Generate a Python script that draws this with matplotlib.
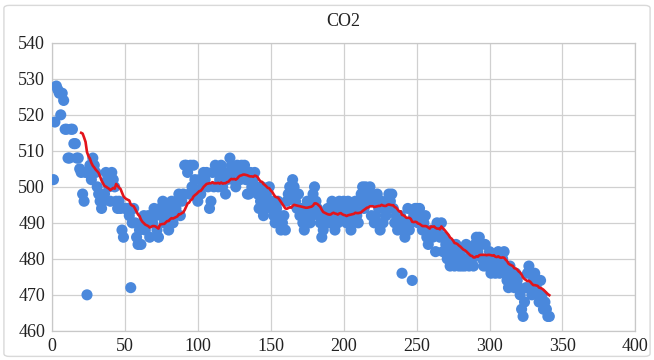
import matplotlib
matplotlib.use("Agg")
import matplotlib.pyplot as plt
import numpy as np
from matplotlib.patches import FancyBboxPatch

plt.rcParams['font.family'] = ['Liberation Serif', 'DejaVu Serif']

title = "CO2"
co2 = [
    502, 518, 528, 527, 526, 520, 526, 524, 516, 516,
    508, 508, 516, 516, 512, 512, 508, 508, 505, 504,
    498, 496, 504, 470, 504, 506, 502, 508, 506, 504,
    500, 498, 496, 494, 496, 498, 504, 502, 500, 496,
    504, 502, 500, 496, 494, 496, 494, 488, 486, 494,
    494, 494, 492, 472, 490, 494, 490, 486, 484, 488,
    484, 490, 492, 488, 490, 492, 486, 492, 490, 494,
    492, 488, 486, 494, 492, 496, 490, 494, 492, 488,
    494, 496, 490, 492, 494, 496, 498, 492, 496, 498,
    506, 506, 504, 498, 506, 500, 506, 502, 498, 496,
    502, 498, 500, 504, 502, 504, 500, 494, 496, 504,
    500, 506, 504, 500, 502, 506, 500, 504, 498, 502,
    504, 508, 506, 502, 504, 500, 506, 504, 502, 506,
    504, 506, 502, 498, 498, 504, 500, 502, 504, 500,
    498, 494, 496, 500, 492, 494, 498, 496, 500, 494,
    496, 492, 490, 494, 496, 492, 488, 490, 492, 488,
    496, 498, 500, 498, 502, 500, 496, 494, 498, 492,
    494, 490, 488, 492, 496, 494, 490, 492, 498, 500,
    496, 494, 492, 490, 486, 488, 492, 490, 494, 490,
    494, 496, 492, 488, 494, 490, 496, 494, 492, 496,
    494, 490, 496, 492, 488, 490, 494, 496, 492, 490,
    496, 498, 500, 494, 500, 496, 498, 500, 492, 496,
    490, 492, 498, 494, 488, 496, 490, 494, 492, 496,
    498, 496, 498, 494, 490, 492, 488, 490, 492, 476,
    488, 486, 490, 494, 488, 490, 474, 492, 494, 494,
    490, 494, 492, 488, 490, 492, 486, 484, 486, 488,
    486, 488, 482, 490, 488, 486, 490, 482, 486, 484,
    480, 484, 478, 482, 480, 478, 484, 480, 478, 482,
    478, 480, 478, 484, 480, 478, 482, 480, 478, 484,
    486, 482, 486, 484, 480, 478, 484, 478, 480, 482,
    476, 478, 480, 476, 478, 482, 476, 478, 480, 482,
    476, 474, 472, 478, 476, 474, 472, 476, 474, 472,
    470, 466, 464, 468, 472, 476, 478, 472, 470, 474,
    476, 472, 470, 468, 474, 470, 466, 468, 466, 464, 464,
]
period = 20
x_ticks = [0, 50, 100, 150, 200, 250, 300, 350, 400]
y_ticks = [460, 470, 480, 490, 500, 510, 520, 530, 540]

x = np.arange(1, len(co2) + 1)
y = np.array(co2, dtype=float)
ma = np.convolve(y, np.ones(period) / period, mode='valid')
ma_x = x[period - 1:]

fig = plt.figure(figsize=(6.54, 3.6), dpi=100)
fig.patch.set_facecolor('white')
border = FancyBboxPatch((0.006, 0.01), 0.988, 0.975, boxstyle="round,pad=0,rounding_size=0.008",
                        transform=fig.transFigure, facecolor='none', edgecolor='#d9d9d9',
                        linewidth=1.0, zorder=10)
fig.patches.append(border)

ax = fig.add_axes([0.0795, 0.081, 0.892, 0.8])
ax.set_facecolor('white')
ax.scatter(x, y, s=64, color='#4a88dc', edgecolors='none', zorder=3)
ax.plot(ma_x, ma, color='#e3141b', linewidth=1.9, zorder=4)

ax.set_xlim(0, 400)
ax.set_ylim(460, 540)
ax.set_xticks(x_ticks)
ax.set_yticks(y_ticks)
ax.grid(True, color='#d0d0d0', linewidth=0.9)
ax.set_axisbelow(True)
for s in ax.spines.values():
    s.set_color('#c8c8c8')
    s.set_linewidth(0.9)
ax.tick_params(length=0, labelsize=13, colors='#222222', pad=5)
ax.set_title(title, fontsize=13, color='#222222', pad=12)

fig.savefig('out.png', dpi=100, facecolor='white')
